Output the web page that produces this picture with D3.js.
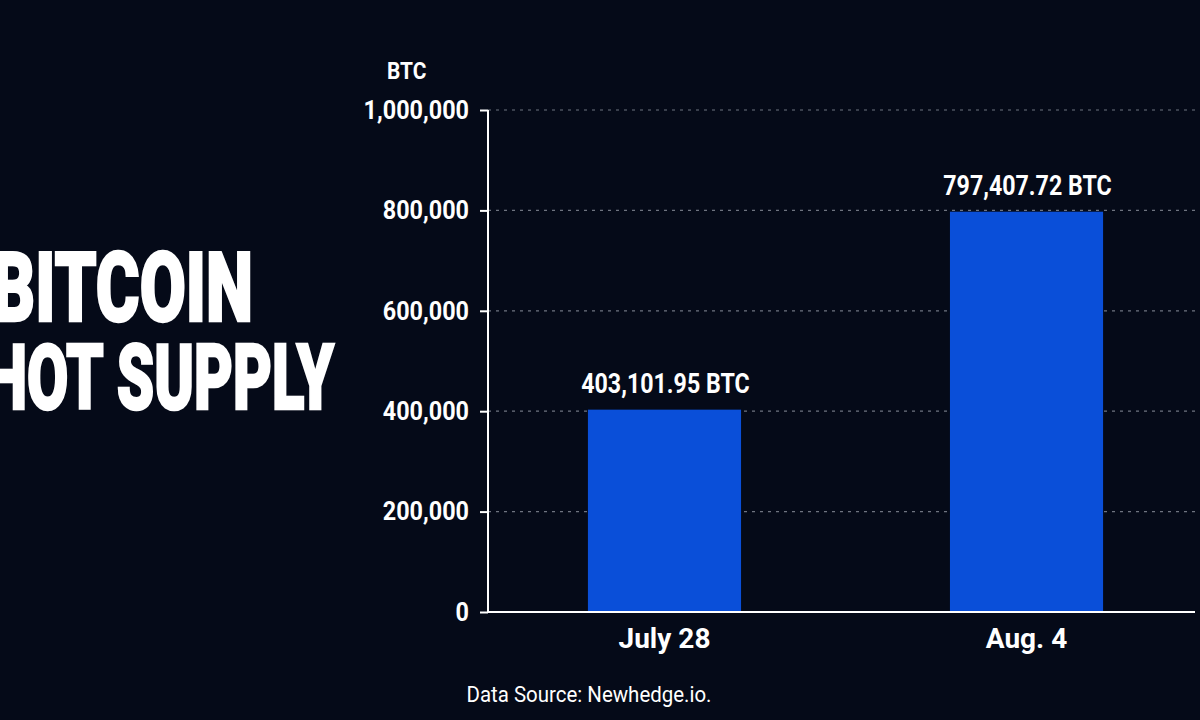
<!DOCTYPE html>
<html>
<head>
<meta charset="utf-8">
<script src="https://cdn.jsdelivr.net/npm/d3@7"></script>
<style>
  html, body { margin: 0; padding: 0; background: #050a18; }
  svg { display: block; }
</style>
</head>
<body>
<svg id="chart"></svg>
<script>
// Data
const categories = ["July 28", "Aug. 4"];
const hotSupply = [403101.95, 797407.72];
const yTicks = [0, 200000, 400000, 600000, 800000, 1000000];
const titleLines = ["BITCOIN", "HOT SUPPLY"];
const unitLabel = "BTC";
const sourceText = "Data Source: Newhedge.io.";

const width = 1200;
const height = 720;
const svg = d3.select("#chart").attr("width", width).attr("height", height);
svg.append("rect").attr("width", width).attr("height", height).attr("fill", "#050a18");

const font = "Roboto, 'Noto Sans', sans-serif";
const axisX = 488;
const axisEnd = 1195;

const xScale = d3
  .scaleBand()
  .domain(categories)
  .range([axisX, 1203])
  .paddingInner(0.577)
  .paddingOuter(0.276);

const yScale = d3.scaleLinear().domain([0, 1000000]).range([612, 110]);

// Title (left, partly cut by the edge)
const titleSpecs = [
  { y: 321, size: 97, start: -8, end: 253 },
  { y: 409, size: 90, start: -15, end: 334 }
];
titleLines.forEach((t, i) => {
  const s = titleSpecs[i];
  svg.append("text")
    .attr("x", s.start)
    .attr("y", s.y)
    .attr("font-family", font)
    .attr("font-weight", 900)
    .attr("font-size", s.size)
    .attr("fill", "#ffffff")
    .attr("stroke", "#ffffff")
    .attr("stroke-width", 2.5)
    .attr("textLength", s.end - s.start)
    .attr("lengthAdjust", "spacingAndGlyphs")
    .text(t);
});

// Grid lines
svg.append("g")
  .selectAll("line")
  .data(yTicks.filter((d) => d > 0))
  .join("line")
  .attr("x1", axisX)
  .attr("x2", 1200)
  .attr("y1", (d) => yScale(d))
  .attr("y2", (d) => yScale(d))
  .attr("stroke", "#6f7480")
  .attr("stroke-width", 1.2)
  .attr("stroke-dasharray", "3,5");

// Bars
svg.append("g")
  .selectAll("rect")
  .data(hotSupply)
  .join("rect")
  .attr("x", (d, i) => xScale(categories[i]))
  .attr("width", xScale.bandwidth())
  .attr("y", (d) => yScale(d))
  .attr("height", (d) => yScale(0) - yScale(d))
  .attr("fill", "#0a4fd9");

// Value labels
const fmt = d3.format(",.2f");
svg.append("g")
  .selectAll("text")
  .data(hotSupply)
  .join("text")
  .attr("transform", (d, i) =>
    `translate(${xScale(categories[i]) + xScale.bandwidth() / 2 + 1},${yScale(d) - 17}) scale(0.86,1)`)
  .attr("text-anchor", "middle")
  .attr("font-family", font)
  .attr("font-weight", 700)
  .attr("font-size", 27)
  .attr("fill", "#ffffff")
  .text((d) => `${fmt(d)} ${unitLabel}`);

// y-Axis
const yAxis = d3.axisLeft(yScale).tickValues(yTicks).tickFormat(d3.format(",")).tickSize(8).tickPadding(11);
const yAxisG = svg.append("g").attr("transform", `translate(${axisX},0)`).call(yAxis);
yAxisG.select(".domain").attr("stroke", "#ffffff").attr("stroke-width", 2).attr("d", `M0,${yScale(1000000)}V${yScale(0)}`);
yAxisG.selectAll(".tick line").attr("stroke", "#ffffff").attr("stroke-width", 2);
yAxisG.selectAll(".tick text")
  .attr("fill", "#ffffff")
  .attr("font-family", font)
  .attr("font-weight", 700)
  .attr("font-size", 26)
  .attr("x", -19 / 0.9)
  .attr("transform", "scale(0.9,1)");

// unit label
svg.append("text")
  .attr("transform", "translate(387,79) scale(0.87,1)")
  .attr("font-family", font)
  .attr("font-weight", 700)
  .attr("font-size", 24)
  .attr("fill", "#ffffff")
  .text(unitLabel);

// x-Axis
const xAxis = d3.axisBottom(xScale).tickSize(0).tickPadding(16);
const xAxisG = svg.append("g").attr("transform", `translate(0,${yScale(0)})`).call(xAxis);
xAxisG.select(".domain").attr("stroke", "#ffffff").attr("stroke-width", 2).attr("d", `M${axisX},0H${axisEnd}`);
xAxisG.selectAll(".tick text")
  .attr("fill", "#ffffff")
  .attr("font-family", font)
  .attr("font-weight", 700)
  .attr("font-size", 28)
  .attr("dy", "0.71em");

// Source
svg.append("text")
  .attr("transform", "translate(589,702) scale(0.93,1)")
  .attr("text-anchor", "middle")
  .attr("font-family", font)
  .attr("font-size", 22)
  .attr("fill", "#ffffff")
  .text(sourceText);
</script>
</body>
</html>
